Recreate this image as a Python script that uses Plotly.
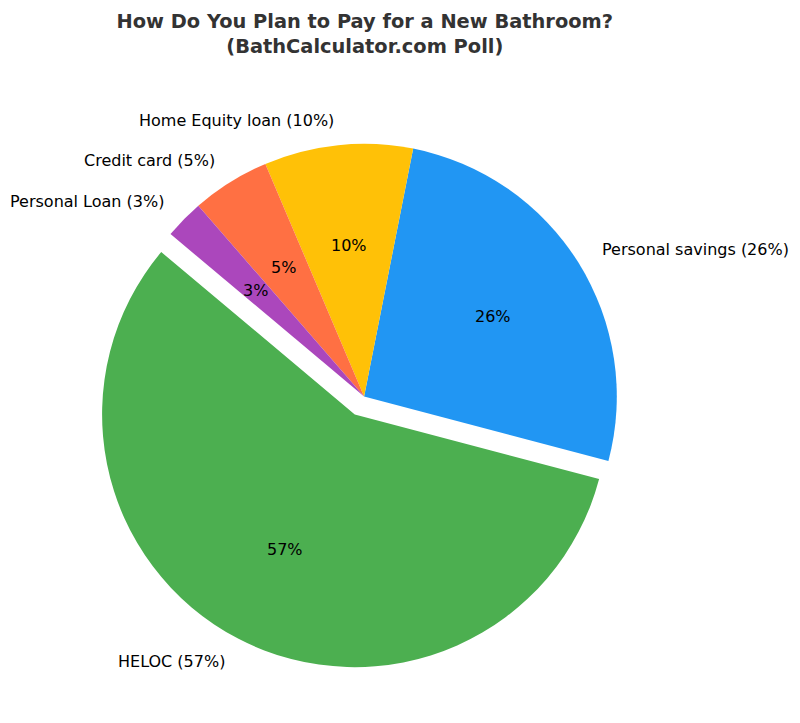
import math
import plotly.graph_objects as go

categories = ["HELOC", "Personal savings", "Home Equity loan", "Credit card", "Personal Loan"]
values = [57, 26, 9.5, 5, 2.5]
colors = ["#4CAF50", "#2196F3", "#FFC107", "#FF7043", "#AB47BC"]

# displayed percentages (rounded half up)
shown = [math.floor(v + 0.5) for v in values]
pct_text = [f"{p}%" for p in shown]
outer_text = [f"{c} ({p}%)" for c, p in zip(categories, shown)]

# style constants
explode = [0.08, 0, 0, 0, 0]
start_angle = 140.0          # degrees, counterclockwise from 3 o'clock
pct_dist, lab_dist = 0.6, 1.1
W, H = 800, 723
R_px = 252.7                 # pie radius in pixels
cx_px, cy_px = 356.1, 388.5  # pie centre (paper pixels from top-left)
A_px = 330                   # half-size of hidden label axes in pixels
font = "DejaVu Sans, sans-serif"

total = sum(values)
max_pull = max(explode)
# plotly rotation: first slice ends (ccw) at 90 - rotation
rot = (90 - (start_angle + 360 * values[0] / total)) % 360


def dom(half_px):
    return dict(x=[(cx_px - half_px) / W, (cx_px + half_px) / W],
                y=[(H - cy_px - half_px) / H, (H - cy_px + half_px) / H])


fig = go.Figure()
fig.add_trace(go.Pie(
    labels=categories, values=values, sort=False, direction="counterclockwise",
    rotation=rot, pull=explode, marker=dict(colors=colors, line=dict(width=0)),
    textinfo="none", domain=dom(R_px * (1 + max_pull)),
    showlegend=False, hoverinfo="label+value",
))

# label placement on hidden axes where 1 unit = pie radius
acc = 0
annotations = []
for v, e, pt, ot in zip(values, explode, pct_text, outer_text):
    mid = math.radians(start_angle + 360 * (acc + v / 2) / total)
    acc += v
    c, s = math.cos(mid), math.sin(mid)
    rp = pct_dist + e
    rl = lab_dist + e
    annotations.append(dict(
        x=rp * c, y=rp * s, xref="x", yref="y", text=pt, showarrow=False,
        xanchor="center", yanchor="middle",
        font=dict(family=font, size=16, color="black"),
    ))
    annotations.append(dict(
        x=rl * c, y=rl * s, xref="x", yref="y", text=ot, showarrow=False,
        xanchor="left" if c > 0 else "right", yanchor="middle",
        font=dict(family=font, size=16, color="black"),
    ))

lim = A_px / R_px
d = dom(A_px)
fig.update_layout(
    width=W, height=H,
    margin=dict(l=0, r=0, t=0, b=0),
    paper_bgcolor="white", plot_bgcolor="rgba(0,0,0,0)",
    xaxis=dict(domain=d["x"], range=[-lim, lim], visible=False, fixedrange=True),
    yaxis=dict(domain=d["y"], range=[-lim, lim], visible=False, fixedrange=True),
    annotations=annotations,
    title=dict(
        text="<b>How Do You Plan to Pay for a New Bathroom?<br>(BathCalculator.com Poll)</b>",
        x=0.446, xanchor="center", y=0.972, yanchor="top", yref="container",
        font=dict(family=font, size=19.4, color="#333333"),
    ),
)
fig.write_html("out.html")
